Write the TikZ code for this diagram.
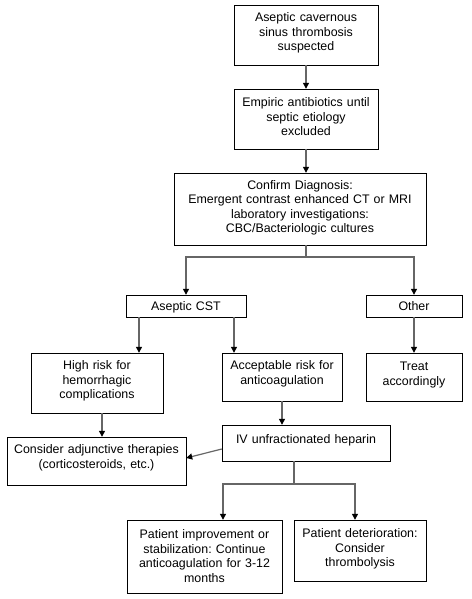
\documentclass[tikz,border=0pt]{standalone}
\usepackage{fontspec}
\setmainfont{Liberation Sans}
\usetikzlibrary{arrows.meta}
\newcommand\boxfont{\fontsize{12.4}{14.5}\selectfont\frenchspacing}
\newcommand\textgap[1]{\endgraf\kern#1}

\begin{document}
\begin{tikzpicture}[x=1pt,y=-1pt,>={Triangle[width=6pt,length=6pt,color=black]},
  lift/.store in=\liftamount, lift=4pt,
  box/.style={draw,rectangle,align=center,inner sep=0pt,font=\boxfont,execute at end node={\textgap{\liftamount}}},
  conn/.style={draw=black!60,line width=1.2pt}]
\useasboundingbox (0,0) rectangle (471,599);
\node[box,minimum width=144pt,minimum height=60pt,text width=138pt] (asc) at (306,35) {Aseptic cavernous\\sinus thrombosis\\suspected};
\node[box,minimum width=144pt,minimum height=60pt,text width=138pt] (emp) at (306,119) {Empiric antibiotics until\\septic etiology\\excluded};
\node[box,minimum width=252pt,minimum height=72pt,text width=246pt,lift=2pt] (conf) at (300,209) {Confirm Diagnosis:\\Emergent contrast enhanced CT or MRI\\laboratory investigations:\\CBC/Bacteriologic cultures};
%
\node[box,minimum width=120pt,minimum height=22pt,text width=114pt,lift=-4pt] (cst) at (186,306) {Aseptic CST};
\node[box,minimum width=96pt,minimum height=22pt,text width=90pt,lift=-4pt] (other) at (414,306) {Other};
%
\node[box,minimum width=132pt,minimum height=60pt,text width=126pt] (high) at (97,383) {High risk for\\hemorrhagic\\complications};
\node[box,minimum width=120pt,minimum height=48pt,text width=114pt,lift=6pt] (acc) at (282,377) {Acceptable risk for\\anticoagulation};
\node[box,minimum width=96pt,minimum height=48pt,text width=90pt] (treat) at (414,377) {Treat\\accordingly};
%
\node[box,minimum width=168pt,minimum height=36pt,text width=162pt,lift=5pt] (iv) at (306,443) {IV unfractionated heparin};
\node[box,minimum width=179pt,minimum height=48pt,text width=173pt,lift=6pt] (adj) at (96.5,461) {Consider adjunctive therapies\\(corticosteroids, etc.)};
%
\node[box,minimum width=155pt,minimum height=73pt,text width=149pt,lift=1pt] (imp) at (204.5,556.5) {Patient improvement or\\stabilization: Continue\\anticoagulation for 3-12\\months};
\node[box,minimum width=132pt,minimum height=61pt,text width=126pt,lift=3pt] (det) at (360,550.5) {Patient deterioration:\\Consider\\thrombolysis};
%%
\coordinate (sp1) at (306,257);
\coordinate (sp2) at (294,484);
\draw[conn,->] (asc) -- (emp);
\draw[conn,->] (emp) -- (emp |- conf.north);
\draw[conn] (conf.south -| sp1) -- (sp1);
\draw[conn,->] (sp1) -| (cst);
\draw[conn,->] (sp1) -| (other);
\draw[conn,->] ([xshift=-47pt]cst.south) -- ([xshift=42pt]high.north);
\draw[conn,->] ([xshift=48pt]cst.south) -- ([xshift=-48pt]acc.north);
\draw[conn,->] (other) -- (treat);
\draw[conn,->] (acc) -- (acc |- iv.north);
\draw[conn,->] ([xshift=5pt]high.south) -- ([xshift=5.5pt]adj.north);
\draw[conn,->] ([yshift=-6pt]iv.west) -- ([yshift=3pt]adj.east);
\draw[conn] (iv.south -| sp2) -- (sp2);
\draw[conn,->] (sp2) -| ([xshift=18.5pt]imp.north);
\draw[conn,->] (sp2) -| ([xshift=-5pt]det.north);
\end{tikzpicture}
\end{document}
